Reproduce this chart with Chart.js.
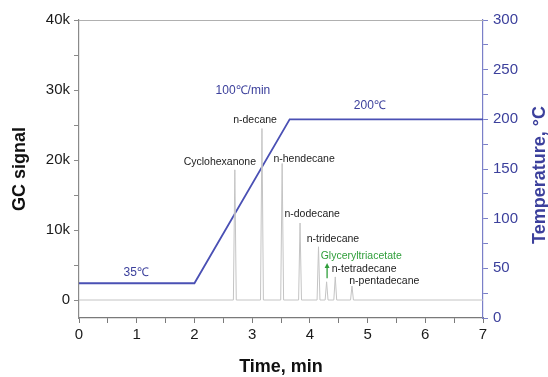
<!DOCTYPE html>
<html>
<head>
<meta charset="utf-8">
<script src="https://cdn.jsdelivr.net/npm/chart.js@4.4.0/dist/chart.umd.min.js"></script>
<style>
    html, body { margin: 0; padding: 0; background: #fff; }
    #wrap { width: 548px; height: 377px; }
</style>
</head>
<body>
<div id="wrap"><canvas id="gcChart"></canvas></div>
<script>
// retention times (min) and peak heights of the chromatogram
const peakNames = ['Cyclohexanone', 'n-decane', 'n-hendecane', 'n-dodecane', 'n-tridecane', 'Glyceryltriacetate', 'n-tetradecane', 'n-pentadecane'];
const peakTimes = [2.70, 3.17, 3.52, 3.83, 4.15, 4.29, 4.44, 4.73];
const peakHeights = [18600, 24500, 19500, 11000, 7600, 2600, 3300, 2000];

// oven temperature program
const tempTimes = [0, 2, 3.65, 7];
const tempValues = [35, 35, 200, 200];

// tick labels
const timeTicks = [0, 1, 2, 3, 4, 5, 6, 7];
const signalTicks = [0, 10000, 20000, 30000, 40000];
const signalLabels = ['0', '10k', '20k', '30k', '40k'];
const tempTicks = [0, 50, 100, 150, 200, 250, 300];

const BLUE = '#4a50b4';
const BLUE_TEXT = '#3c409c';

// chromatogram trace: baseline with a narrow peak at each retention time
const halfWidth = 0.025;
const trace = [{ x: timeTicks[0], y: 0 }];
peakTimes.forEach((t, i) =>
{
    trace.push({ x: t - halfWidth, y: 0 });
    trace.push({ x: t, y: peakHeights[i] });
    trace.push({ x: t + halfWidth, y: 0 });
});
trace.push({ x: timeTicks[timeTicks.length - 1], y: 0 });

const tempLine = tempTimes.map((t, i) => ({ x: t, y: tempValues[i] }));

// where the peak names sit (time, signal)
const labelSpots = [
    [2.44, 19700], [3.05, 25700], [3.90, 20100], [4.04, 12300],
    [4.40, 8700], [4.89, 6300], [4.94, 4400], [5.29, 2700]
];

function minorTicks(from, to, step)
{
    const out = [];
    for (let v = from; v <= to + 1e-9; v += step) out.push({ value: Math.round(v * 1000) / 1000 });
    return out;
}

const annotations = {
    id: 'annotations',
    afterDraw(chart)
    {
        const { ctx, chartArea, scales } = chart;
        const x = scales.x, y = scales.y, y2 = scales.y2;
        ctx.save();

        // top frame line
        ctx.strokeStyle = '#b0b0b0';
        ctx.lineWidth = 1;
        ctx.beginPath();
        ctx.moveTo(chartArea.left, chartArea.top + 0.5);
        ctx.lineTo(chartArea.right, chartArea.top + 0.5);
        ctx.stroke();

        // peak names
        ctx.textAlign = 'center';
        ctx.textBaseline = 'middle';
        ctx.font = '10.5px "Liberation Sans", Arial, sans-serif';
        peakNames.forEach((name, i) =>
        {
            ctx.fillStyle = name === 'Glyceryltriacetate' ? '#2f9e3a' : '#222';
            ctx.fillText(name, x.getPixelForValue(labelSpots[i][0]), y.getPixelForValue(labelSpots[i][1]));
        });

        // green arrow to glyceryltriacetate peak
        const ax = x.getPixelForValue(peakTimes[5]) + 0.5;
        const ay0 = y.getPixelForValue(3100);
        const ay1 = y.getPixelForValue(5300);
        ctx.strokeStyle = '#2f9e3a';
        ctx.fillStyle = '#2f9e3a';
        ctx.lineWidth = 1.3;
        ctx.beginPath();
        ctx.moveTo(ax, ay0);
        ctx.lineTo(ax, ay1 + 3);
        ctx.stroke();
        ctx.beginPath();
        ctx.moveTo(ax, ay1);
        ctx.lineTo(ax - 2.5, ay1 + 5);
        ctx.lineTo(ax + 2.5, ay1 + 5);
        ctx.closePath();
        ctx.fill();

        // temperature program notes
        ctx.fillStyle = BLUE_TEXT;
        ctx.font = '12px "Liberation Sans", Arial, sans-serif';
        ctx.fillText('35\u2103', x.getPixelForValue(0.99), y2.getPixelForValue(46));
        ctx.fillText('100\u2103/min', x.getPixelForValue(2.84), y2.getPixelForValue(229));
        ctx.fillText('200\u2103', x.getPixelForValue(5.04), y2.getPixelForValue(214));

        // axis titles
        ctx.font = 'bold 18px "Liberation Sans", Arial, sans-serif';
        const midY = (chartArea.top + chartArea.bottom) / 2;
        ctx.fillStyle = '#111';
        ctx.fillText('Time, min', (chartArea.left + chartArea.right) / 2, 367);

        ctx.save();
        ctx.translate(20, midY);
        ctx.rotate(-Math.PI / 2);
        ctx.fillText('GC signal', 0, 0);
        ctx.restore();

        ctx.save();
        ctx.fillStyle = BLUE_TEXT;
        ctx.translate(540, midY + 6);
        ctx.rotate(-Math.PI / 2);
        ctx.fillText('Temperature, \u00B0C', 0, 0);
        ctx.restore();

        ctx.restore();
    }
};

const ctx = document.getElementById('gcChart').getContext('2d');

new Chart(ctx, {
    type: 'scatter',
    data: {
        datasets: [
            {
                label: 'GC signal',
                data: trace,
                showLine: true,
                borderColor: '#c4c4c4',
                borderWidth: 1,
                pointRadius: 0,
                tension: 0,
                yAxisID: 'y'
            },
            {
                label: 'Temperature',
                data: tempLine,
                showLine: true,
                borderColor: BLUE,
                borderWidth: 1.8,
                pointRadius: 0,
                tension: 0,
                yAxisID: 'y2'
            }
        ]
    },
    options: {
        responsive: true,
        maintainAspectRatio: false,
        animation: false,
        layout: { padding: { top: 20 } },
        plugins: {
            legend: { display: false },
            tooltip: { enabled: false }
        },
        scales: {
            x: {
                type: 'linear',
                position: 'bottom',
                min: timeTicks[0],
                max: timeTicks[timeTicks.length - 1],
                afterBuildTicks: s => { s.ticks = minorTicks(0, 7, 0.5); },
                afterFit: s => { s.height = 59; },
                border: { color: '#7a7a7a', width: 1.2 },
                grid: { drawOnChartArea: false, tickLength: 5, tickColor: '#7a7a7a' },
                ticks: {
                    color: '#1a1a1a',
                    padding: 3,
                    maxRotation: 0,
                    autoSkip: false,
                    font: { size: 15, family: '"Liberation Sans", Arial, sans-serif' },
                    callback: v => timeTicks.includes(v) ? String(v) : ''
                }
            },
            y: {
                type: 'linear',
                position: 'left',
                min: -2571,
                max: 40000,
                afterBuildTicks: s => { s.ticks = minorTicks(0, 40000, 5000); },
                afterFit: s => { s.width = 79; },
                border: { color: '#8a8a8a', width: 1.2 },
                grid: { drawOnChartArea: false, tickLength: 5, tickColor: '#8a8a8a' },
                ticks: {
                    color: '#1a1a1a',
                    padding: 4,
                    autoSkip: false,
                    font: { size: 15, family: '"Liberation Sans", Arial, sans-serif' },
                    callback: v =>
                    {
                        const k = signalTicks.indexOf(v);
                        return k >= 0 ? signalLabels[k] : '';
                    }
                }
            },
            y2: {
                type: 'linear',
                position: 'right',
                min: 0,
                max: 300,
                afterBuildTicks: s => { s.ticks = minorTicks(0, 300, 25); },
                afterFit: s => { s.width = 65; },
                border: { color: '#7a7fc8', width: 1.2 },
                grid: { drawOnChartArea: false, tickLength: 5, tickColor: '#7a7fc8' },
                ticks: {
                    color: BLUE_TEXT,
                    padding: 5,
                    autoSkip: false,
                    font: { size: 15, family: '"Liberation Sans", Arial, sans-serif' },
                    callback: v => tempTicks.includes(v) ? String(v) : ''
                }
            }
        }
    },
    plugins: [annotations]
});
</script>
</body>
</html>
